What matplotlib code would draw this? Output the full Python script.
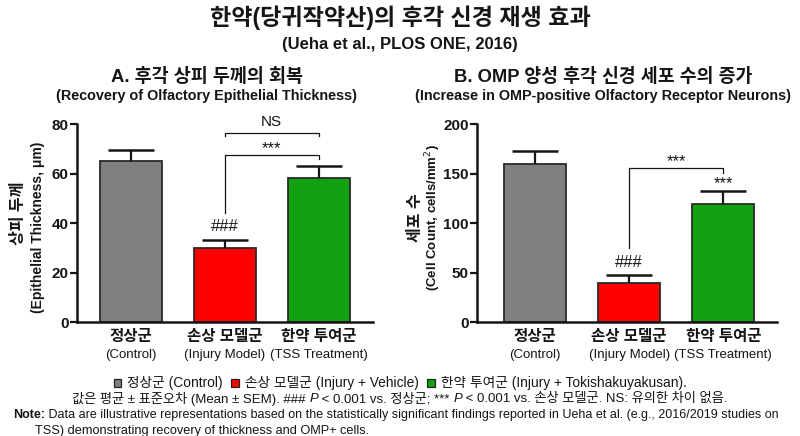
import matplotlib
matplotlib.use("Agg")
import matplotlib.pyplot as plt
from matplotlib.patches import Rectangle

# ---------------- data ----------------
groups_ko = ["정상군", "손상 모델군", "한약 투여군"]
groups_en = ["(Control)", "(Injury Model)", "(TSS Treatment)"]
thick_mean = [65, 30, 58]
thick_sem = [4.5, 3.3, 5.0]
omp_mean = [160, 39, 119]
omp_sem = [13, 8, 13]
bar_colors = ["#808080", "#ff0000", "#13a013"]

LAT = "Liberation Sans"
FAM = [LAT, "Noto Sans CJK KR", "DejaVu Sans"]
plt.rcParams["font.family"] = FAM
plt.rcParams["axes.unicode_minus"] = False

INK = "#151515"
fig = plt.figure(figsize=(8, 4.36), dpi=100)
W, H = 800, 436

def fx(px): return px / W
def fy(py): return 1 - py / H

fig.text(0.5, fy(18), "한약(당귀작약산)의 후각 신경 재생 효과", ha="center", va="center",
         fontsize=16.6, fontweight="bold", color=INK)
fig.text(0.5, fy(45), "(Ueha et al., PLOS ONE, 2016)", ha="center", va="center",
         fontsize=12, fontweight="bold", color=INK)

def panel(left_px, right_px, title_ko, title_en, title_cx, tk_fs, te_fs,
          means, sems, ymax, yticks, xlim):
    ax = fig.add_axes([fx(left_px), fy(322), fx(right_px - left_px), (322 - 124) / H])
    x = list(range(len(means)))
    ax.bar(x, means, width=0.66, color=bar_colors, edgecolor="#2a2a2a", linewidth=1.3, zorder=2)
    tops = [m + s for m, s in zip(means, sems)]
    ax.vlines(x, means, tops, color=INK, linewidth=1.6, zorder=3)
    ax.hlines(tops, [i - 0.245 for i in x], [i + 0.245 for i in x], color=INK, linewidth=1.8, zorder=3)
    ax.set_xlim(*xlim)
    ax.set_ylim(0, ymax)
    ax.set_yticks(yticks)
    ax.set_yticklabels([str(t) for t in yticks], fontsize=11, fontweight="bold", color=INK)
    ax.set_xticks(x)
    ax.set_xticklabels(groups_ko, fontsize=11.2, fontweight="bold", color=INK)
    for i, lab in enumerate(groups_en):
        ax.annotate(lab, xy=(i, 0), xycoords=("data", "axes fraction"), xytext=(0, -19.5),
                    textcoords="offset points", ha="center", va="top", fontsize=9.5, color=INK)
    for s in ["top", "right"]:
        ax.spines[s].set_visible(False)
    for s in ["left", "bottom"]:
        ax.spines[s].set_linewidth(1.8)
        ax.spines[s].set_color(INK)
    ax.tick_params(axis="y", length=5, width=1.6, pad=1, colors=INK)
    ax.tick_params(axis="x", length=0, pad=5)
    fig.text(fx(title_cx), fy(77), title_ko, ha="center", va="center", fontsize=tk_fs,
             fontweight="bold", color=INK)
    fig.text(fx(title_cx), fy(96), title_en, ha="center", va="center", fontsize=te_fs,
             fontweight="bold", color=INK)
    return ax

axA = panel(77, 373, "A. 후각 상피 두께의 회복", "(Recovery of Olfactory Epithelial Thickness)", 207,
            13.3, 10.4, thick_mean, thick_sem, 80, [0, 20, 40, 60, 80], (-0.574, 2.58))
axB = panel(477, 777, "B. OMP 양성 후각 신경 세포 수의 증가",
            "(Increase in OMP-positive Olfactory Receptor Neurons)", 603,
            13.2, 10.35, omp_mean, omp_sem, 200, [0, 50, 100, 150, 200], (-0.617, 2.57))

# y labels
fig.text(fx(18), fy(213), "상피 두께", rotation=90, ha="center", va="center", fontsize=11.5,
         fontweight="bold", color=INK)
fig.text(fx(38), fy(227), "(Epithelial Thickness, μm)", rotation=90, ha="center", va="center",
         fontsize=10, fontweight="bold", color=INK)
fig.text(fx(415), fy(218), "세포 수", rotation=90, ha="center", va="center", fontsize=11.5,
         fontweight="bold", color=INK)
fig.text(fx(433), fy(218), "(Cell Count, cells/mm$^2$)", rotation=90, ha="center", va="center",
         fontsize=9.5, fontweight="bold", color=INK)

def bracket(ax, x1, x2, y, yl, yr, label, ty, fs=12):
    ax.plot([x1, x1, x2, x2], [yl, y, y, yr], color=INK, linewidth=0.9, clip_on=False, zorder=4)
    ax.text((x1 + x2) / 2, ty, label, ha="center", va="center", fontsize=fs, color=INK, clip_on=False)

bracket(axA, 1, 2, 76.4, 75.2, 75.2, "NS", 80.8, fs=11)
bracket(axA, 1, 2, 67.5, 44.0, 66.0, "***", 70.2)
axA.text(1, 38.6, "###", ha="center", va="center", fontsize=12, color=INK)

bracket(axB, 1, 2, 155.5, 75.0, 150.5, "***", 162.0)
axB.text(2, 140.0, "***", ha="center", va="center", fontsize=12, color=INK)
axB.text(1, 60.6, "###", ha="center", va="center", fontsize=12, color=INK)

# ---------------- footnotes (piecewise, width-fitted) ----------------
fig.canvas.draw()
renderer = fig.canvas.get_renderer()

def piece_width(txt, **kw):
    t = fig.text(0, 0, txt, **kw)
    w = t.get_window_extent(renderer).width
    t.remove()
    return w

def measure(pieces, fs):
    items, total = [], 0
    for p in pieces:
        if p[0] == "box":
            w = fs * 1.05
            items.append(("box", p[1], w))
        else:
            kw = dict(fontsize=fs, family=FAM, color=INK)
            kw.update(p[1])
            w = piece_width(p[0], **kw)
            items.append(("txt", p[0], kw, w))
        total += items[-1][-1]
    return items, total

def draw_line(pieces, y_px, target_w, x_px=None):
    _, tot = measure(pieces, 10)
    fs = 10 * target_w / tot
    items, total = measure(pieces, fs)
    x = (W - total) / 2 if x_px is None else x_px
    for it in items:
        if it[0] == "box":
            s = fs * 0.8
            fig.patches.append(Rectangle((fx(x + 0.5), fy(y_px + s / 2)), fx(s), s / H,
                                         transform=fig.transFigure, facecolor=it[1],
                                         edgecolor="#222", linewidth=0.9, figure=fig))
            x += it[2]
        else:
            fig.text(fx(x), fy(y_px), it[1], ha="left", va="center", **it[2])
            x += it[3]

draw_line([("box", "#808080"), (" 정상군 (Control)  ", {}), ("box", "#ff0000"),
           (" 손상 모델군 (Injury + Vehicle)  ", {}), ("box", "#13a013"),
           (" 한약 투여군 (Injury + Tokishakuyakusan).", {})], 383, 572)
draw_line([("값은 평균 ± 표준오차 (Mean ± SEM). ### ", {}), ("P", {"style": "italic"}),
           (" < 0.001 vs. 정상군; *** ", {}), ("P", {"style": "italic"}),
           (" < 0.001 vs. 손상 모델군. NS: 유의한 차이 없음.", {})], 399, 656)
draw_line([("Note:", {"fontweight": "bold"}),
           (" Data are illustrative representations based on the statistically significant findings reported in Ueha et al. (e.g., 2016/2019 studies on", {})],
          415, 759, x_px=13)
draw_line([("TSS) demonstrating recovery of thickness and OMP+ cells.", {})], 431, 335, x_px=35)

fig.savefig("out.png", dpi=100)
